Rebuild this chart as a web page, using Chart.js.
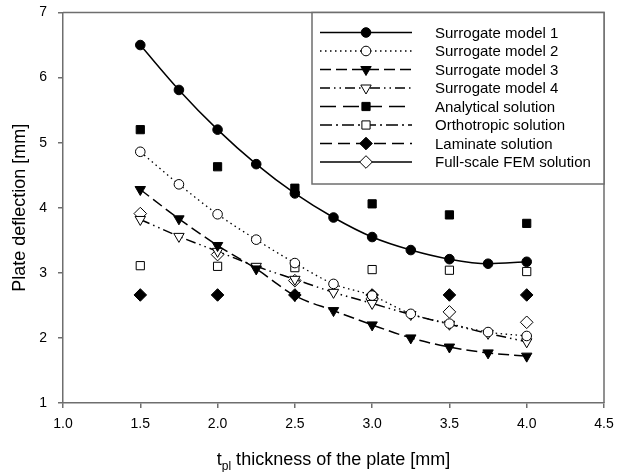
<!DOCTYPE html>
<html>
<head>
<meta charset="utf-8">
<script src="https://cdn.jsdelivr.net/npm/chart.js@4/dist/chart.umd.min.js"></script>
<style>
  html, body { margin: 0; padding: 0; background: #fff; }
  #wrap { width: 617px; height: 472px; }
</style>
</head>
<body>
<div id="wrap"><canvas id="deflChart" width="617" height="472"></canvas></div>
<script>
// plate thickness values (mm)
const thicknessFine = [1.5, 1.75, 2.0, 2.25, 2.5, 2.75, 3.0, 3.25, 3.5, 3.75, 4.0];
const thicknessCoarse = [1.5, 2.0, 2.5, 3.0, 3.5, 4.0];

// plate deflection (mm)
const surrogate1 = [6.50, 5.81, 5.20, 4.67, 4.22, 3.85, 3.55, 3.35, 3.21, 3.14, 3.17];
const surrogate2 = [4.86, 4.36, 3.90, 3.51, 3.15, 2.83, 2.65, 2.37, 2.22, 2.09, 2.03];
const surrogate3 = [4.28, 3.83, 3.42, 3.06, 2.65, 2.42, 2.20, 2.00, 1.86, 1.77, 1.72];
const surrogate4 = [3.82, 3.56, 3.33, 3.10, 2.90, 2.70, 2.53, 2.36, 2.21, 2.07, 1.94];
const analytical = [5.20, 4.63, 4.30, 4.06, 3.89, 3.76];
const orthotropic = [3.11, 3.10, 3.08, 3.05, 3.04, 3.02];
const laminate = [2.66, 2.66, 2.66, 2.66, 2.66, 2.66];
const fullScaleFEM = [3.91, 3.28, 2.88, 2.60, 2.40, 2.24];

const xTicks = [1.0, 1.5, 2.0, 2.5, 3.0, 3.5, 4.0, 4.5];
const yTicks = [1, 2, 3, 4, 5, 6, 7];

const FONT = "'Liberation Sans', Arial, sans-serif";
const AXIS_GREY = '#6e6e6e';

function pairs(xs, ys) {
    return xs.map((x, i) => ({ x: x, y: ys[i] }));
}

function series(label, xs, ys, style) {
    return Object.assign({
        label: label,
        data: pairs(xs, ys),
        borderColor: '#000',
        backgroundColor: '#000',
        pointBorderColor: '#000',
        borderWidth: 1.5,
        pointBorderWidth: 1,
        showLine: true,
        tension: 0.4,
        cubicInterpolationMode: 'monotone',
    }, style);
}

const datasets = [
    series('Surrogate model 1', thicknessFine, surrogate1, {
        pointStyle: 'circle', pointRadius: 4.8, pointBackgroundColor: '#000', borderDash: [], legendDash: []
    }),
    series('Surrogate model 2', thicknessFine, surrogate2, {
        pointStyle: 'circle', pointRadius: 4.8, pointBackgroundColor: '#fff', borderWidth: 1.3,
        borderDash: [1.5, 3.5], legendDash: [1.5, 3.5]
    }),
    series('Surrogate model 3', thicknessFine, surrogate3, {
        pointStyle: 'triangle', pointRotation: 180, pointRadius: 6, pointBackgroundColor: '#000',
        borderDash: [11, 5], legendDash: [11, 5]
    }),
    series('Surrogate model 4', thicknessFine, surrogate4, {
        pointStyle: 'triangle', pointRotation: 180, pointRadius: 6, pointBackgroundColor: '#fff',
        borderDash: [10, 4, 1.5, 4, 1.5, 4], legendDash: [10, 4, 1.5, 4, 1.5, 4]
    }),
    series('Analytical solution', thicknessCoarse, analytical, {
        showLine: false, pointStyle: 'rect', pointRadius: 5.8, pointBackgroundColor: '#000',
        legendDash: [16, 7]
    }),
    series('Orthotropic solution', thicknessCoarse, orthotropic, {
        showLine: false, pointStyle: 'rect', pointRadius: 5.8, pointBackgroundColor: '#fff',
        legendDash: [12, 4, 2, 4]
    }),
    series('Laminate solution', thicknessCoarse, laminate, {
        showLine: false, pointStyle: 'rectRot', pointRadius: 6.3, pointBackgroundColor: '#000',
        legendDash: [12, 6]
    }),
    series('Full-scale FEM solution', thicknessCoarse, fullScaleFEM, {
        showLine: false, pointStyle: 'rectRot', pointRadius: 6.3, pointBackgroundColor: '#fff',
        legendDash: []
    }),
];

// top and right border of the plot frame
const framePlugin = {
    id: 'frame',
    beforeDatasetsDraw(chart) {
        const { ctx, chartArea: a } = chart;
        ctx.save();
        ctx.strokeStyle = AXIS_GREY;
        ctx.lineWidth = 1.5;
        ctx.beginPath();
        ctx.moveTo(a.left, a.top);
        ctx.lineTo(a.right, a.top);
        ctx.lineTo(a.right, a.bottom);
        ctx.stroke();
        ctx.restore();
    }
};

// x title with the subscript
const xTitlePlugin = {
    id: 'xTitle',
    afterDraw(chart) {
        const { ctx, chartArea: a } = chart;
        ctx.save();
        ctx.fillStyle = '#000';
        ctx.textBaseline = 'alphabetic';
        const big = '18px ' + FONT, small = '12px ' + FONT;
        const p1 = 't', p2 = 'pl', p3 = ' thickness of the plate [mm]';
        ctx.font = big;
        const w1 = ctx.measureText(p1).width, w3 = ctx.measureText(p3).width;
        ctx.font = small;
        const w2 = ctx.measureText(p2).width;
        let x = (a.left + a.right) / 2 - (w1 + w2 + w3) / 2;
        const base = 465;
        ctx.font = big;
        ctx.fillText(p1, x, base);
        x += w1;
        ctx.font = small;
        ctx.fillText(p2, x, base + 5);
        x += w2;
        ctx.font = big;
        ctx.fillText(p3, x, base);
        ctx.restore();
    }
};

// legend box with line samples and markers
const legendPlugin = {
    id: 'boxLegend',
    afterDraw(chart) {
        const { ctx, chartArea: a } = chart;
        const boxL = 312, boxT = a.top, boxR = a.right, boxB = 184;
        ctx.save();
        ctx.fillStyle = '#fff';
        ctx.fillRect(boxL, boxT, boxR - boxL, boxB - boxT);
        ctx.strokeStyle = AXIS_GREY;
        ctx.lineWidth = 1.5;
        ctx.strokeRect(boxL, boxT, boxR - boxL, boxB - boxT);

        chart.data.datasets.forEach((ds, i) => {
            const y = 32.5 + i * 18.5;
            ctx.save();
            ctx.strokeStyle = '#000';
            ctx.lineWidth = ds.borderWidth;
            ctx.setLineDash(ds.legendDash || []);
            ctx.beginPath();
            ctx.moveTo(320, y);
            ctx.lineTo(412, y);
            ctx.stroke();
            ctx.setLineDash([]);
            ctx.fillStyle = ds.pointBackgroundColor;
            ctx.strokeStyle = '#000';
            ctx.lineWidth = 1;
            Chart.helpers.drawPoint(ctx, {
                pointStyle: ds.pointStyle,
                rotation: ds.pointRotation || 0,
                radius: ds.pointRadius,
                borderWidth: 1
            }, 366, y);
            ctx.restore();

            ctx.fillStyle = '#000';
            ctx.font = '15px ' + FONT;
            ctx.textBaseline = 'middle';
            ctx.fillText(ds.label, 435, y + 1);
        });
        ctx.restore();
    }
};

drawDeflectionChart();

function drawDeflectionChart() {
    const canvas = document.getElementById('deflChart');
    new Chart(canvas, {
        type: 'scatter',
        data: { datasets: datasets },
        plugins: [framePlugin, xTitlePlugin, legendPlugin],
        options: {
            responsive: false,
            animation: false,
            layout: { padding: { top: 12.5, right: 13, left: 0, bottom: 0 } },
            plugins: {
                legend: { display: false },
                tooltip: { enabled: false }
            },
            scales: {
                x: {
                    type: 'linear',
                    min: xTicks[0],
                    max: xTicks[xTicks.length - 1],
                    afterBuildTicks: (scale) => { scale.ticks = xTicks.map(v => ({ value: v })); },
                    afterFit: (scale) => {
                        scale.height = 69;
                        scale.paddingLeft = 0;
                        scale.paddingRight = 0;
                    },
                    grid: { drawOnChartArea: false, drawTicks: true, tickLength: 5, color: AXIS_GREY, lineWidth: 1.5 },
                    border: { display: true, color: AXIS_GREY, width: 1.5 },
                    ticks: {
                        padding: 8,
                        color: '#000',
                        font: { family: FONT, size: 14 },
                        callback: (v) => Number(v).toFixed(1)
                    },
                    title: { display: false }
                },
                y: {
                    type: 'linear',
                    min: yTicks[0],
                    max: yTicks[yTicks.length - 1],
                    afterBuildTicks: (scale) => { scale.ticks = yTicks.map(v => ({ value: v })); },
                    afterFit: (scale) => {
                        scale.width = 63;
                        scale.paddingTop = 0;
                        scale.paddingBottom = 0;
                    },
                    grid: { drawOnChartArea: false, drawTicks: true, tickLength: 5, color: AXIS_GREY, lineWidth: 1.5 },
                    border: { display: true, color: AXIS_GREY, width: 1.5 },
                    ticks: {
                        padding: 11,
                        color: '#000',
                        font: { family: FONT, size: 14 },
                        callback: (v) => String(v)
                    },
                    title: {
                        display: true,
                        text: 'Plate deflection [mm]',
                        color: '#000',
                        font: { family: FONT, size: 18 },
                        padding: { top: 9, bottom: 0 }
                    }
                }
            }
        }
    });
}
</script>
</body>
</html>
